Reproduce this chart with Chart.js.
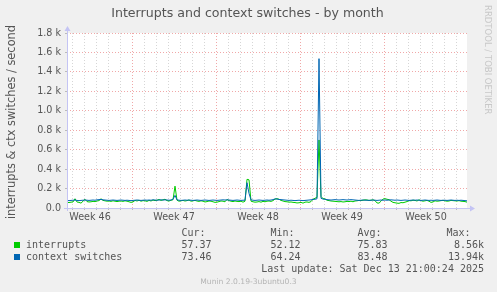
<!DOCTYPE html>
<html>
<head>
<meta charset="utf-8">
<script src="https://cdn.jsdelivr.net/npm/chart.js@4"></script>
<style>
  body { margin: 0; background: #f0f0f0; }
  canvas { display: block; }
</style>
</head>
<body>
<canvas id="graph" width="497" height="292"></canvas>
<script>
// one sample every 4 hours, 201 samples = 800 hours shown
let stepHours = 4,
    weekLabels = ['Week 46', 'Week 47', 'Week 48', 'Week 49', 'Week 50'],
    weekCentres = [46, 214, 382, 550, 718],      // hours from left edge
    weekStarts = [130, 298, 466, 634],           // red lines
    yTicksMajor = [0, 200, 400, 600, 800, 1000, 1200, 1400, 1600, 1800]

let interrupts = [
    58, 56, 60, 62, 95, 62, 58, 50, 70, 90,
    66, 62, 64, 68, 66, 72, 76, 95, 78, 74,
    70, 72, 68, 74, 70, 66, 70, 72, 68, 74,
    70, 64, 58, 62, 78, 72, 80, 70, 76, 74,
    68, 78, 72, 82, 76, 80, 88, 78, 84, 90,
    76, 72, 80, 85, 225, 80, 70, 74, 78, 72,
    76, 82, 70, 74, 78, 72, 68, 74, 70, 62,
    66, 72, 70, 64, 58, 60, 66, 72, 70, 64,
    88, 76, 70, 66, 72, 68, 66, 70, 60, 70,
    295, 290, 70, 64, 60, 62, 66, 60, 68, 64,
    70, 72, 68, 76, 92, 96, 90, 78, 72, 66,
    64, 60, 62, 58, 56, 52, 54, 58, 50, 60,
    62, 58, 66, 90, 100, 110, 700, 120, 96, 94,
    80, 76, 72, 70, 68, 66, 64, 66, 62, 64,
    68, 66, 70, 64, 72, 74, 78, 76, 80, 84,
    82, 78, 80, 84, 76, 52, 50, 70, 92, 96,
    90, 86, 70, 58, 54, 50, 48, 56, 54, 60,
    66, 76, 74, 80, 78, 72, 84, 76, 70, 74,
    78, 70, 58, 62, 74, 70, 72, 76, 78, 74,
    70, 72, 78, 76, 74, 72, 76, 70, 68, 66,
    60
]

let contextSwitches = [
    78, 76, 78, 80, 82, 78, 76, 78, 80, 82,
    80, 78, 80, 82, 80, 84, 86, 88, 84, 82,
    80, 78, 80, 82, 80, 78, 80, 82, 80, 78,
    80, 78, 76, 78, 80, 82, 80, 78, 80, 82,
    80, 82, 80, 84, 82, 80, 82, 84, 82, 84,
    82, 80, 82, 90, 130, 84, 80, 78, 80, 82,
    80, 82, 80, 78, 80, 82, 80, 78, 80, 82,
    80, 78, 80, 82, 80, 78, 80, 82, 84, 82,
    84, 82, 80, 78, 80, 82, 80, 78, 80, 80,
    260, 150, 84, 80, 78, 80, 82, 80, 78, 80,
    82, 80, 82, 86, 94, 92, 88, 86, 84, 82,
    80, 78, 80, 78, 76, 78, 80, 78, 76, 78,
    80, 82, 84, 88, 90, 95, 1536, 100, 92, 90,
    86, 84, 82, 84, 86, 84, 82, 84, 86, 84,
    82, 84, 86, 84, 82, 80, 78, 80, 82, 80,
    80, 78, 80, 82, 80, 78, 80, 82, 80, 82,
    80, 82, 84, 82, 80, 82, 80, 78, 80, 82,
    80, 78, 80, 82, 80, 82, 80, 78, 80, 82,
    80, 78, 80, 78, 80, 82, 80, 78, 80, 80,
    78, 80, 82, 80, 78, 80, 78, 80, 78, 76,
    74
]

let legendRows = [
    { name: 'interrupts', color: '#00cc00', cur: '57.37', min: '52.12', avg: '75.83', max: '8.56k' },
    { name: 'context switches', color: '#0066b3', cur: '73.46', min: '64.24', avg: '83.48', max: '13.94k' }
]

let titleText = 'Interrupts and context switches - by month',
    yTitle = 'interrupts & ctx switches / second',
    lastUpdate = 'Last update: Sat Dec 13 21:00:24 2025',
    footer = 'Munin 2.0.19-3ubuntu0.3',
    watermark = 'RRDTOOL / TOBI OETIKER'

let toPoints = arr => arr.map((v, i) => ({ x: i * stepHours, y: v }))

let redGrid = '#f0a8a8',
    greyGrid = '#d6d6d6',
    axisColor = '#c4c4f4',
    textColor = '#555555'

// background, axes and all munin text
let muninDecor = {
    id: 'muninDecor',
    beforeDraw(chart) {
        let ctx = chart.ctx, a = chart.chartArea
        ctx.save()
        ctx.fillStyle = '#f0f0f0'
        ctx.fillRect(0, 0, chart.width, chart.height)
        ctx.fillStyle = '#ffffff'
        ctx.fillRect(a.left, a.top, a.right - a.left, a.bottom - a.top)
        ctx.restore()
    },
    afterDraw(chart) {
        let ctx = chart.ctx, a = chart.chartArea
        ctx.save()

        // axes with arrows
        ctx.strokeStyle = axisColor
        ctx.fillStyle = axisColor
        ctx.lineWidth = 1
        ctx.beginPath()
        ctx.moveTo(a.left + 0.5, a.bottom + 3)
        ctx.lineTo(a.left + 0.5, a.top - 3)
        ctx.moveTo(a.left - 3, a.bottom + 0.5)
        ctx.lineTo(a.right + 4, a.bottom + 0.5)
        ctx.stroke()
        ctx.beginPath()
        ctx.moveTo(a.left - 2.5, a.top - 2)
        ctx.lineTo(a.left + 3.5, a.top - 2)
        ctx.lineTo(a.left + 0.5, a.top - 7)
        ctx.closePath()
        ctx.fill()
        ctx.beginPath()
        ctx.moveTo(a.right + 3, a.bottom - 2.5)
        ctx.lineTo(a.right + 3, a.bottom + 3.5)
        ctx.lineTo(a.right + 8, a.bottom + 0.5)
        ctx.closePath()
        ctx.fill()

        // title
        ctx.fillStyle = textColor
        ctx.font = '12.6px "DejaVu Sans"'
        ctx.textAlign = 'center'
        ctx.textBaseline = 'alphabetic'
        ctx.fillText(titleText, 247.5, 16.5)

        // vertical axis title
        ctx.save()
        ctx.translate(15, 122)
        ctx.rotate(-Math.PI / 2)
        ctx.font = '11.4px "DejaVu Sans"'
        ctx.fillText(yTitle, 0, 0)
        ctx.restore()

        // watermark on the right
        ctx.save()
        ctx.translate(485, 5)
        ctx.rotate(Math.PI / 2)
        ctx.fillStyle = '#c8c8c8'
        ctx.font = '8.5px "DejaVu Sans"'
        ctx.textAlign = 'left'
        ctx.fillText(watermark, 0, 0)
        ctx.restore()

        // legend
        ctx.font = '10px "DejaVu Sans Mono"'
        ctx.textAlign = 'left'
        ctx.fillStyle = textColor
        ctx.fillText('Cur:', 181.5, 235.5)
        ctx.fillText('Min:', 270.5, 235.5)
        ctx.fillText('Avg:', 357.5, 235.5)
        ctx.fillText('Max:', 446.5, 235.5)
        legendRows.forEach((r, i) => {
            let base = 247.5 + i * 12
            ctx.fillStyle = r.color
            ctx.fillRect(14, base - 5.5, 6, 6)
            ctx.fillStyle = textColor
            ctx.textAlign = 'left'
            ctx.fillText(r.name, 26, base)
            ctx.fillText(r.cur, 181.5, base)
            ctx.fillText(r.min, 270.5, base)
            ctx.fillText(r.avg, 357.5, base)
            ctx.textAlign = 'right'
            ctx.fillText(r.max, 484, base)
        })
        ctx.textAlign = 'right'
        ctx.fillText(lastUpdate, 484, 271.5)

        ctx.fillStyle = '#b4b4b4'
        ctx.font = '7.6px "DejaVu Sans"'
        ctx.textAlign = 'center'
        ctx.fillText(footer, 248.5, 284.3)

        ctx.restore()
    }
}

let ctx = document.getElementById('graph').getContext('2d')
let myChart = new Chart(ctx, {
    type: 'line',
    data: {
        datasets: [{
            label: 'interrupts',
            data: toPoints(interrupts),
            borderColor: '#00cc00',
            borderWidth: 1,
            pointRadius: 0,
            tension: 0,
            fill: false,
            order: 1
        }, {
            label: 'context switches',
            data: toPoints(contextSwitches),
            borderColor: '#0066b3',
            borderWidth: 1,
            pointRadius: 0,
            tension: 0,
            fill: false,
            order: 0
        }]
    },
    options: {
        responsive: false,
        animation: false,
        devicePixelRatio: 1,
        layout: { padding: { top: 33, right: 30, bottom: 64, left: 0 } },
        plugins: { legend: { display: false }, tooltip: { enabled: false } },
        scales: {
            x: {
                type: 'linear',
                min: 0,
                max: 800,
                afterFit: s => { s.height = 20 },
                afterBuildTicks: s => {
                    // a tick every 12h, offset so days and week centres both land on one
                    let t = []
                    for (let h = 10; h < 800; h += 12) t.push({ value: h })
                    s.ticks = t
                },
                grid: {
                    lineWidth: 1,
                    tickLength: 2,
                    color: c => {
                        let v = c.tick.value
                        if ((v - 10) % 24 !== 0) return 'rgba(0,0,0,0)'
                        return weekStarts.includes(v) ? redGrid : greyGrid
                    },
                    tickColor: c => ((c.tick.value - 10) % 24 === 0 ? '#bbbbbb' : 'rgba(0,0,0,0)')
                },
                border: { display: false, dash: [1, 2] },
                ticks: {
                    autoSkip: false,
                    maxRotation: 0,
                    padding: 2,
                    color: textColor,
                    font: { family: 'DejaVu Sans', size: 9.6 },
                    callback: v => {
                        let k = weekCentres.indexOf(v)
                        return k >= 0 ? weekLabels[k] : ''
                    }
                }
            },
            y: {
                min: 0,
                max: 1800,
                afterFit: s => { s.width = 67 },
                grid: {
                    lineWidth: 1,
                    tickLength: 2,
                    color: c => (yTicksMajor.includes(c.tick.value) ? redGrid : greyGrid),
                    tickColor: '#bbbbbb'
                },
                border: { display: false, dash: [1, 2] },
                ticks: {
                    stepSize: 100,
                    padding: 4,
                    color: textColor,
                    font: { family: 'DejaVu Sans', size: 9.6 },
                    callback: v => {
                        if (v === 0) return '0.0'
                        return yTicksMajor.includes(v) ? (v / 1000).toFixed(1) + ' k' : ''
                    }
                }
            }
        }
    },
    plugins: [muninDecor]
})
</script>
</body>
</html>
